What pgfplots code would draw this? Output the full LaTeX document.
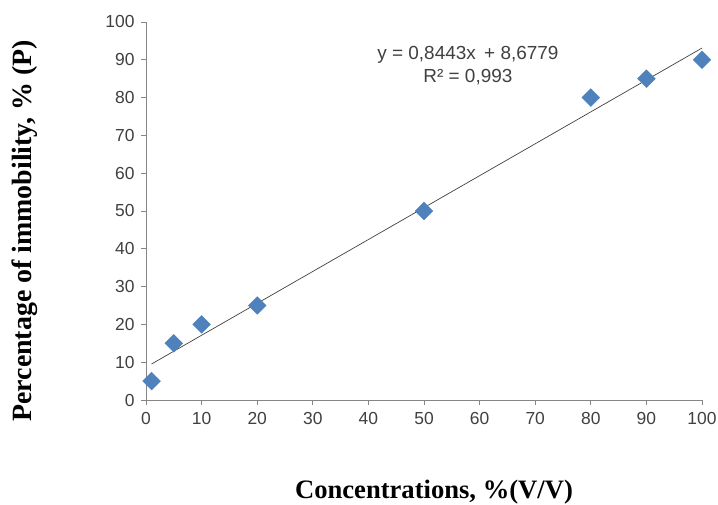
\documentclass[border=0pt]{standalone}
\usepackage{fontspec}
\setmainfont{Liberation Sans}
\newfontfamily\tnr{Liberation Serif}
\usepackage{pgfplots}
\pgfplotsset{compat=1.18}
\definecolor{xlblue}{HTML}{4F81BD}
\definecolor{axgray}{HTML}{868686}
\definecolor{txgray}{HTML}{404040}
\begin{document}
\begin{tikzpicture}[x=1bp,y=1bp]
\useasboundingbox (-146bp,-105bp) rectangle (572bp,400bp);
\begin{axis}[
  at={(0,0)}, anchor=south west,
  scale only axis,
  width=556bp, height=378bp,
  xmin=0, xmax=100, ymin=0, ymax=100,
  xtick={0,10,...,100}, ytick={0,10,...,100},
  axis lines=left,
  axis line style={-, draw=axgray, line width=0.8pt},
  tick style={draw=axgray, line width=0.8pt},
  tick align=outside,
  major tick length=5bp,
  /pgf/number format/assume math mode=true,
  tick label style={font=\fontsize{17.5}{20}\selectfont, text=txgray},
  yticklabel style={xshift=-3bp},
  xticklabel style={yshift=-4bp},
  clip=false,
]
\addplot[black!75, line width=0.7pt] coordinates {(1,9.5222) (100,93.1079)};
\addplot[only marks, mark=square*, mark size=6.3bp,
  mark options={rotate=45, fill=xlblue, draw=xlblue}] coordinates {
  (1,5) (5,15) (10,20) (20,25) (50,50) (80,80) (90,85) (100,90)};
\node[align=center, text=txgray, font=\fontsize{19}{23}\selectfont]
  at (axis cs:57.9,88.5) {y = 0,8443x \,+ 8,6779\\R² = 0,993};
\end{axis}
\node[rotate=90, font=\tnr\bfseries\fontsize{28}{32}\selectfont] at (-121bp,169bp)
  {Percentage of immobility, \% (P)};
\node[font=\tnr\bfseries\fontsize{26.7}{30}\selectfont] at (288bp,-92bp)
  {Concentrations, \%(V/V)};
\end{tikzpicture}
\end{document}
